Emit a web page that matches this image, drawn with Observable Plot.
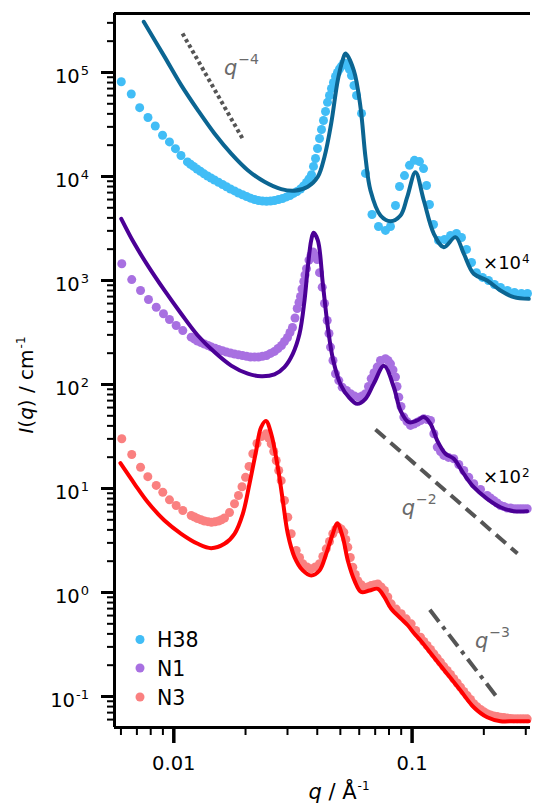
<!DOCTYPE html>
<html><head><meta charset="utf-8">
<script src="https://cdn.jsdelivr.net/npm/d3@7"></script>
<script src="https://cdn.jsdelivr.net/npm/@observablehq/plot@0.6"></script>
<style>body{margin:0;background:#fff} #chart{width:533px;height:805px}</style>
</head><body><div id="chart"></div>
<script>
// ---------- data (q in 1/Å, I in 1/cm, as plotted incl. offsets) ----------
const H38_q = [0.00602,0.00663,0.00719,0.00779,0.00836,0.00897,0.00959,0.01016,0.01072,0.01141,0.01210,0.01294,0.01385,0.01481,0.01601,0.01729,0.01868,0.02019,0.02182,0.02356,0.02546,0.02751,0.02972,0.03180,0.03402,0.03605,0.03783,0.03933,0.04088,0.04248,0.04416,0.04589,0.04771,0.04958,0.05153,0.05357,0.05568,0.05845,0.06135,0.06375,0.06788,0.07228,0.07733,0.08116,0.08518,0.08855,0.09292,0.09752,0.1023,0.1074,0.1117,0.1150,0.1183,0.1230,0.1291,0.1368,0.1450,0.1536,0.1612,0.1692,0.1776,0.1863,0.1975,0.2093,0.2217,0.2350,0.2514,0.2690,0.2878,0.3050];
const H38_I = [8.14e4,6.21e4,4.59e4,3.69e4,3.06e4,2.49e4,2.15e4,1.85e4,1.59e4,1.38e4,1.25e4,1.12e4,1.01e4,9250,8370,7580,6940,6420,6010,5810,5810,6010,6360,6870,7580,8750,1.04e4,1.49e4,2.32e4,3.45e4,5.16e4,7.02e4,9.15e4,1.08e5,1.22e5,1.17e5,9.36e4,6.01e4,4.04e4,1.07e4,4310,3300,3030,3300,5260,8020,1.02e4,1.28e4,1.43e4,1.39e4,1.19e4,8190,5380,3450,2430,2480,2710,2830,2590,1990,1490,1190,1070,1000,916,857,802,767,750,750];
// further H38 points read along the dense band
const H38b_q = [0.01175,0.01251,0.01339,0.01432,0.01540,0.01664,0.01798,0.01942,0.02099,0.02266,0.02449,0.02646,0.02858,0.03073,0.03289,0.03502,0.03693,0.03857,0.04009,0.04167,0.04332,0.04502,0.04679,0.04863,0.05054,0.05255,0.05461,0.05704];
const H38b_I = [1.31e4,1.18e4,1.06e4,9680,8790,7960,7260,6670,6190,5870,5780,5870,6140,6560,7180,8110,9460,1.25e4,1.86e4,2.83e4,4.22e4,6.01e4,8.01e4,1.0e5,1.15e5,1.22e5,1.07e5,7.50e4];
const H38fit_q = [0.00748,0.00914,0.01074,0.01261,0.01481,0.01741,0.02044,0.02402,0.02823,0.03210,0.03650,0.04022,0.04290,0.04577,0.04878,0.05105,0.05255,0.05693,0.06074,0.06375,0.06690,0.07369,0.08116,0.08939,0.09537,0.1033,0.1120,0.1234,0.1359,0.1521,0.1648,0.1815,0.2066,0.2350,0.2672,0.3088];
const H38fit_I = [3.07e5,1.42e5,7.55e4,4.34e4,2.59e4,1.66e4,1.15e4,8890,7550,7290,7960,9930,1.55e4,3.24e4,8.44e4,1.30e5,1.52e5,1.05e5,4.64e4,1.53e4,7330,4220,3720,4220,6320,1.10e4,5870,2810,2090,2610,1810,1160,1000,802,691,666];

const N1_q = [0.00605,0.00666,0.00725,0.00783,0.00844,0.00905,0.00959,0.01023,0.01091,0.01183,0.01257,0.01345,0.01439,0.01540,0.01664,0.01798,0.01942,0.02099,0.02266,0.02449,0.02646,0.02831,0.03000,0.03148,0.03295,0.03402,0.03512,0.03605,0.03693,0.03838,0.03998,0.04196,0.04403,0.04546,0.04771,0.05089,0.05515,0.05975,0.06375,0.06736,0.07139,0.07369,0.07733,0.08116,0.08518,0.08794,0.09231,0.09846,0.1050,0.1120,0.1195,0.1234,0.1275,0.1359,0.1496,0.1570,0.1648,0.1729,0.1815,0.1937,0.2066,0.2202,0.2350,0.2506,0.2672,0.2851,0.3041];
const N1_I = [1450,1020,802,656,553,479,422,369,330,285,262,245,229,217,205,196,190,184,184,190,208,237,283,353,538,702,977,1300,1570,1880,1590,862,412,229,127,94.2,81.5,75.5,81.5,114,147,170,177,158,118,75.5,48.6,40.4,43.4,46.8,45.1,33.6,25.0,20.8,19.3,17.0,14.9,12.8,11.1,9.77,8.57,7.67,6.87,6.49,6.38,6.38,6.38];
const N1b_q = [0.01222,0.01300,0.01392,0.01489,0.01601,0.01729,0.01868,0.02019,0.02182,0.02356,0.02546,0.02737,0.02914,0.03073,0.03226,0.03352,0.03451,0.03553,0.03764,0.03913,0.04088,0.04290,0.04480,0.04657,0.04926,0.05306,0.05732,0.06164,0.06561,0.06922,0.07922,0.08317,0.08644,0.08985,0.09519,0.1017,0.1085,0.1157,0.1316,0.1421,0.2133,0.2276,0.2426,0.2588,0.2761,0.2942];
const N1b_I = [273,253,237,223,211,201,193,187,184,187,199,222,259,316,436,614,828,1130,1740,1740,1190,601,309,170,109,87.5,77.4,77.4,95.7,130,170,138,95.7,61.4,44.0,41.7,45.1,46.1,22.7,19.9,8.11,7.26,6.71,6.49,6.38,6.38];
const N1fit_q = [0.00602,0.00684,0.00778,0.00914,0.01074,0.01261,0.01481,0.01741,0.02044,0.02327,0.02646,0.02914,0.03158,0.03370,0.03536,0.03650,0.03772,0.03857,0.04022,0.04221,0.04430,0.04648,0.05021,0.05426,0.05884,0.06375,0.06906,0.07624,0.08381,0.08939,0.09685,0.1050,0.1120,0.1195,0.1275,0.1381,0.1496,0.1648,0.1815,0.2066,0.2350,0.2672,0.3041];
const N1fit_I = [3920,2250,1390,802,479,296,205,152,127,120,125,147,197,307,643,1340,2430,2870,2430,929,356,178,98.9,75.5,65.2,72.9,102,151,94.2,56.2,43.4,45.1,48.6,41.9,28.9,21.6,19.3,13.8,10.3,7.96,6.61,6.05,6.05];

const N3_q = [0.00605,0.00666,0.00725,0.00778,0.00844,0.00899,0.00959,0.01023,0.01091,0.01183,0.01257,0.01345,0.01439,0.01540,0.01632,0.01713,0.01798,0.01868,0.01933,0.02000,0.02069,0.02146,0.02234,0.02333,0.02442,0.02563,0.02690,0.02823,0.02914,0.03009,0.03109,0.03264,0.03477,0.03772,0.04088,0.04362,0.04648,0.04911,0.05168,0.05373,0.05639,0.05918,0.06314,0.06736,0.07180,0.07658,0.08173,0.09003,0.09913,0.1085,0.1157,0.1234,0.1316,0.1404,0.1496,0.1597,0.1703,0.1815,0.1937,0.2066,0.2202,0.2350,0.2506,0.2672,0.2851,0.3041];
const N3_I = [30.1,21.2,16.0,13.0,10.7,9.21,7.78,6.87,6.14,5.50,5.15,4.87,4.74,4.87,5.20,5.88,7.13,8.57,10.4,12.8,16.3,21.6,27.1,31.6,33.6,26.9,18.6,11.9,7.67,5.30,3.67,2.54,1.89,1.69,1.89,2.63,3.67,4.25,3.80,2.73,1.75,1.30,1.12,1.17,1.21,1.045,0.778,0.624,0.500,0.372,0.309,0.257,0.214,0.178,0.148,0.123,0.102,0.0851,0.0750,0.0683,0.0649,0.0632,0.0621,0.0610,0.0610,0.0610];
const N3b_q = [0.01222,0.01300,0.01392,0.01489,0.01585,0.02502,0.02626,0.02756,0.03370,0.03622,0.03925,0.04221,0.04502,0.04780,0.05040,0.05270,0.05505,0.05777,0.06115,0.06517,0.06953,0.07417,0.07907,0.08578,0.09445,0.1036,0.1120,0.1195,0.1275,0.1359,0.1450,0.1547,0.1648,0.1759,0.1876,0.2000,0.2133,0.2276,0.2426,0.2588,0.2761,0.2942];
const N3b_I = [5.32,5.00,4.80,4.79,5.01,30.6,22.7,14.9,2.17,1.76,1.76,2.22,3.09,4.04,4.08,3.24,2.17,1.49,1.19,1.13,1.19,1.13,0.905,0.693,0.558,0.431,0.338,0.283,0.234,0.194,0.163,0.135,0.112,0.0935,0.0796,0.0713,0.0664,0.0642,0.0627,0.0614,0.0610,0.0610];
const N3fit_q = [0.00597,0.00684,0.00778,0.00914,0.01074,0.01261,0.01435,0.01632,0.01798,0.01948,0.02078,0.02217,0.02322,0.02437,0.02563,0.02732,0.02867,0.03009,0.03210,0.03477,0.03772,0.04088,0.04362,0.04648,0.04850,0.05118,0.05373,0.05732,0.06115,0.06626,0.07180,0.07658,0.08173,0.09003,0.09566,0.1023,0.1085,0.1234,0.1404,0.1597,0.1815,0.2066,0.2350,0.2672,0.3088];
const N3fit_I = [17.5,11.1,7.38,4.92,3.67,2.94,2.67,2.94,3.67,5.71,11.1,23.2,38.6,44.6,33.6,16.0,7.67,3.67,2.19,1.63,1.46,1.63,2.36,3.67,4.63,3.40,2.03,1.30,1.01,1.045,1.085,0.901,0.697,0.558,0.487,0.401,0.3455,0.239,0.165,0.114,0.0789,0.0632,0.0579,0.0579,0.0579];

// power-law guide lines (endpoints)
const slope4_q = [0.01088, 0.01942], slope4_I = [2.37e5, 2.32e4];
const slope2_q = [0.0702, 0.2769],   slope2_I = [36.9, 2.37];
const slope3_q = [0.1187, 0.2311],   slope3_I = [0.682, 0.0935];

// annotation anchors (q, I at text baseline start)
const annotations = [
  {q: 0.01632, I: 9.36e4, base: "q", sup: "\u22124", italic: true},
  {q: 0.0909,  I: 5.50,   base: "q", sup: "\u22122", italic: true},
  {q: 0.1846,  I: 0.289,  base: "q", sup: "\u22123", italic: true},
  {q: 0.1995,  I: 1276,   base: "\u00d710", sup: "4", italic: false},
  {q: 0.1995,  I: 11.2,   base: "\u00d710", sup: "2", italic: false}
];

const seriesNames = ["H38", "N1", "N3"];
const dotColors = ["#41bdf6", "#a870e1", "#fa8080"];
const lineColors = ["#0b6592", "#4b0096", "#ff0000"];

const yMajor = [0.1, 1, 10, 100, 1e3, 1e4, 1e5];
const yMinor = [0.06,0.07,0.08,0.09, 0.2,0.3,0.4,0.5,0.6,0.7,0.8,0.9, 2,3,4,5,6,7,8,9, 20,30,40,50,60,70,80,90, 200,300,400,500,600,700,800,900, 2e3,3e3,4e3,5e3,6e3,7e3,8e3,9e3, 2e4,3e4,4e4,5e4,6e4,7e4,8e4,9e4, 2e5,3e5];
const xMajor = [0.01, 0.1];
const xMajorLabels = ["0.01", "0.1"];
const xMinor = [0.006,0.007,0.008,0.009, 0.02,0.03,0.04,0.05,0.06,0.07,0.08,0.09, 0.2,0.3];

const xDomain = [0.005638, 0.314];
const yDomain = [0.05035, 3.69e5];

// ---------- build ----------
const FONT = "DejaVu Sans";
const rows = (q, I) => q.map((d, i) => ({q: d, I: I[i]}));
const dotsData = [
  rows(H38_q, H38_I).concat(rows(H38b_q, H38b_I)),
  rows(N1_q, N1_I).concat(rows(N1b_q, N1b_I)),
  rows(N3_q, N3_I).concat(rows(N3b_q, N3b_I))
];
const fitData = [rows(H38fit_q, H38fit_I), rows(N1fit_q, N1fit_I), rows(N3fit_q, N3fit_I)];

const seriesMarks = [];
for (const k of [2, 1, 0]) {
  seriesMarks.push(Plot.dot(dotsData[k], {x: "q", y: "I", r: 4.5, fill: dotColors[k], stroke: "none"}));
  seriesMarks.push(Plot.line(fitData[k], {x: "q", y: "I", stroke: lineColors[k], strokeWidth: 4, curve: "catmull-rom"}));
}

const guide = "#555555";
const plot = Plot.plot({
  width: 533, height: 805,
  marginLeft: 114, marginRight: 3, marginTop: 13, marginBottom: 78,
  style: {fontFamily: FONT, background: "white", color: "black"},
  x: {type: "log", domain: xDomain, label: null, axis: null},
  y: {type: "log", domain: yDomain, label: null, axis: null},
  marks: [
    ...seriesMarks,
    Plot.line(rows(slope4_q, slope4_I), {x: "q", y: "I", stroke: guide, strokeWidth: 4, strokeDasharray: "3.5,3", strokeLinecap: "butt"}),
    Plot.line(rows(slope2_q, slope2_I), {x: "q", y: "I", stroke: guide, strokeWidth: 4, strokeDasharray: "13,7", strokeLinecap: "butt"}),
    Plot.line(rows(slope3_q, slope3_I), {x: "q", y: "I", stroke: guide, strokeWidth: 4, strokeDasharray: "15,6,4,6", strokeLinecap: "butt"}),
    Plot.axisY(yMinor, {anchor: "left", tickSize: 7, strokeWidth: 2, tickFormat: () => "", label: null}),
    Plot.axisY(yMajor, {anchor: "left", tickSize: 13, strokeWidth: 3, tickFormat: () => "", label: null}),
    Plot.axisX(xMinor, {anchor: "bottom", tickSize: 8, strokeWidth: 2, tickFormat: () => "", label: null}),
    Plot.axisX(xMajor, {anchor: "bottom", tickSize: 16, strokeWidth: 3.5, tickPadding: 13, fontSize: 19.5,
      tickFormat: d => xMajorLabels[xMajor.indexOf(d)], label: null}),
    Plot.ruleX([xDomain[0]], {stroke: "black", strokeWidth: 3}),
    Plot.ruleY([yDomain[0]], {stroke: "black", strokeWidth: 3}),
    Plot.ruleY([yDomain[1]], {stroke: "black", strokeWidth: 3})
  ]
});
document.getElementById("chart").appendChild(plot);

const X = plot.scale("x"), Y = plot.scale("y");
const svg = d3.select(plot);

function rich(x, y, parts, o) {
  const t = svg.append("text").attr("x", x).attr("y", y)
    .attr("font-family", FONT).attr("font-size", o.size).attr("fill", o.fill || "black")
    .attr("text-anchor", o.anchor || "start");
  if (o.rotate) t.attr("transform", `rotate(-90 ${x} ${y})`);
  for (const p of parts) {
    const s = t.append("tspan").text(p.t);
    if (p.italic) s.attr("font-style", "italic");
    if (p.size) s.attr("font-size", p.size);
    if (p.dy) s.attr("dy", p.dy);
    if (p.dx) s.attr("dx", p.dx);
  }
  return t;
}

// y tick labels 10^n
const x0 = X.apply(xDomain[0]);
for (const v of yMajor) {
  const e = Math.round(Math.log10(v));
  rich(x0 - 25, Y.apply(v) + 11, [{t: "10"}, {t: e < 0 ? "-" + (-e) : String(e), size: 13, dy: -8, dx: 1}], {size: 19.5, anchor: "end"});
}

// annotations
for (const a of annotations) {
  const px = X.apply(a.q), py = Y.apply(a.I);
  if (a.italic) {
    rich(px, py, [{t: a.base, italic: true}, {t: a.sup, size: 14, dy: -11, dx: 1}], {size: 21, fill: "#6a6a6a"});
  } else {
    rich(px, py, [{t: a.base}, {t: a.sup, size: 12, dy: -6, dx: 1}], {size: 18});
  }
}

// axis titles
rich(33, 385, [{t: "I", italic: true}, {t: "("}, {t: "q", italic: true}, {t: ") / cm"}, {t: "-1", size: 12, dy: -8, dx: 1}], {size: 20, anchor: "middle", rotate: true});
rich(339, 799, [{t: "q", italic: true}, {t: " / \u00c5"}, {t: "-1", size: 12, dy: -9, dx: 1}], {size: 21, anchor: "middle"});

// legend
const legendY = [639.5, 668, 697];
seriesNames.forEach((name, i) => {
  svg.append("circle").attr("cx", 140).attr("cy", legendY[i]).attr("r", 4.5).attr("fill", dotColors[i]);
  svg.append("text").attr("x", 157).attr("y", legendY[i] + 7.5).attr("text-anchor", "start")
    .attr("font-family", FONT).attr("font-size", 20.5).attr("fill", "black").text(name);
});
</script>
</body></html>
